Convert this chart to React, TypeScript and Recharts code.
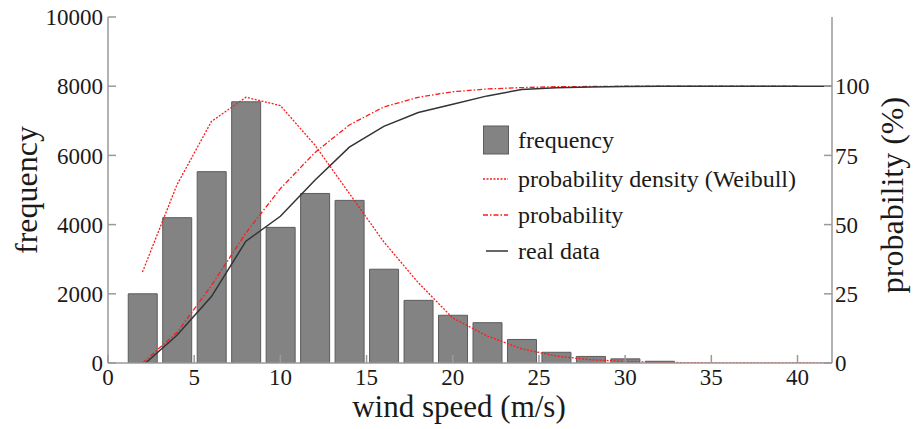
import React from "react";
import { ComposedChart, Bar, Line, XAxis, YAxis, Legend } from "recharts";

// wind speed bins (m/s)
const windSpeed = [2, 4, 6, 8, 10, 12, 14, 16, 18, 20, 22, 24, 26, 28, 30, 32, 34, 36, 38, 40, 42];
// observed counts per bin
const frequency = [2000, 4200, 5530, 7550, 3920, 4900, 4700, 2710, 1810, 1380, 1165, 680, 310, 190, 120, 50, null, null, null, null, null];
// Weibull density, drawn on the frequency scale
const density = [2630, 5150, 6980, 7680, 7440, 6300, 4900, 3500, 2320, 1300, 780, 410, 200, 95, 45, 20, 8, 3, 1, 0, 0];
// cumulative probability (%)
const probability = [0, 11, 28, 47, 63, 76, 86, 92.5, 96, 98, 99, 99.5, 99.8, 99.9, 100, 100, 100, 100, 100, 100, null];
const realData = [-1, 10, 24, 44, 53, 66, 78, 85.5, 90.5, 93.5, 96.5, 98.8, 99.4, 99.7, 99.9, 100, 100, 100, 100, 100, 100];

const xTicks = [0, 5, 10, 15, 20, 25, 30, 35, 40];
const freqTicks = [0, 2000, 4000, 6000, 8000, 10000];
const probTicks = [0, 25, 50, 75, 100];

const legendItems = [
  { name: "frequency", kind: "bar" },
  { name: "probability density (Weibull)", kind: "dot" },
  { name: "probability", kind: "dashdot" },
  { name: "real data", kind: "solid" },
];

const FONT = "Liberation Serif";
const TEXT = "#1a1a1a";
const AXIS = "#9a9a9a";
const RED = "#ff1a1a";

const data = windSpeed.map((x, i) => ({
  x,
  frequency: frequency[i],
  density: density[i],
  probability: probability[i],
  real: realData[i],
}));

const tickStyle = { fill: TEXT, fontSize: 23, fontFamily: FONT };

function LegendBox() {
  return (
    <div style={{ fontFamily: FONT, fontSize: 24, color: TEXT }}>
      {legendItems.map((item, i) => (
        <div
          key={item.name}
          style={{ display: "flex", alignItems: "center", height: 36, marginBottom: i === 0 ? 3 : 0 }}
        >
          <svg width={26} height={30} style={{ marginRight: 9 }}>
            {item.kind === "bar" && (
              <rect x={0.5} y={1} width={25} height={28} fill="#838383" stroke="#5c5c5c" />
            )}
            {item.kind === "dot" && (
              <line x1={0} x2={25} y1={15} y2={15} stroke={RED} strokeWidth={1.3} strokeDasharray="2 1.5" />
            )}
            {item.kind === "dashdot" && (
              <line x1={0} x2={25} y1={15} y2={15} stroke={RED} strokeWidth={1.3} strokeDasharray="5 2 1.5 2" />
            )}
            {item.kind === "solid" && (
              <line x1={3} x2={25} y1={15} y2={15} stroke="#333" strokeWidth={1.5} />
            )}
          </svg>
          <span>{item.name}</span>
        </div>
      ))}
    </div>
  );
}

const titleStyle = { fill: TEXT, fontSize: 32, fontFamily: FONT };

const leftTitle = (props: any) => {
  const vb = props.viewBox || { x: 0, y: 17, width: 108, height: 346 };
  const cx = vb.x + 37;
  const cy = vb.y + vb.height / 2;
  return (
    <text x={cx} y={cy} transform={`rotate(-90 ${cx} ${cy})`} textAnchor="middle" {...titleStyle}>
      frequency
    </text>
  );
};

const rightTitle = (props: any) => {
  const vb = props.viewBox || { x: 832, y: 17, width: 82, height: 346 };
  const cx = vb.x + 71;
  const cy = vb.y + vb.height / 2 + 5;
  return (
    <text x={cx} y={cy} transform={`rotate(-90 ${cx} ${cy})`} textAnchor="middle" {...titleStyle}>
      probability (%)
    </text>
  );
};

const bottomTitle = (props: any) => {
  const vb = props.viewBox || { x: 108, y: 363, width: 724, height: 66 };
  const cx = vb.x + vb.width / 2 - 11;
  return (
    <text x={cx} y={vb.y + 54} textAnchor="middle" {...titleStyle} fontSize={31}>
      wind speed (m/s)
    </text>
  );
};

export default function App() {
  return (
    <div style={{ position: "absolute", left: 0, top: 0, background: "#fff", fontFamily: FONT }}>
      <ComposedChart width={914} height={429} data={data} margin={{ top: 17, right: 0, bottom: 0, left: 0 }}>
        <XAxis
          xAxisId="x"
          dataKey="x"
          type="number"
          domain={[0, 42]}
          ticks={xTicks}
          interval={0}
          height={66}
          tickSize={-8}
          tickMargin={14}
          stroke={AXIS}
          strokeWidth={1.5}
          tick={tickStyle}
          allowDataOverflow
          label={bottomTitle}
        />
        <XAxis
          xAxisId="top"
          orientation="top"
          dataKey="x"
          type="number"
          domain={[0, 42]}
          ticks={xTicks}
          interval={0}
          height={0}
          tickSize={-8}
          stroke={AXIS}
          strokeWidth={1.5}
          tick={() => null}
          allowDataOverflow
        />
        <YAxis
          yAxisId="left"
          domain={[0, 10000]}
          ticks={freqTicks}
          interval={0}
          width={108}
          tickSize={-8}
          tickMargin={13}
          stroke={AXIS}
          strokeWidth={1.5}
          tick={tickStyle}
          allowDataOverflow
          label={leftTitle}
        />
        <YAxis
          yAxisId="right"
          orientation="right"
          domain={[0, 125]}
          ticks={probTicks}
          interval={0}
          width={82}
          tickSize={-8}
          tickMargin={11}
          stroke={AXIS}
          strokeWidth={1.5}
          tick={tickStyle}
          allowDataOverflow
          label={rightTitle}
        />
        <Bar
          xAxisId="x"
          yAxisId="left"
          dataKey="frequency"
          barSize={29}
          fill="#838383"
          stroke="#5c5c5c"
          strokeWidth={1}
          isAnimationActive={false}
        />
        <Line
          xAxisId="x"
          yAxisId="left"
          type="linear"
          dataKey="density"
          stroke={RED}
          strokeWidth={1.3}
          strokeDasharray="2 1.5"
          dot={false}
          isAnimationActive={false}
        />
        <Line
          xAxisId="x"
          yAxisId="right"
          type="linear"
          dataKey="probability"
          stroke={RED}
          strokeWidth={1.3}
          strokeDasharray="5 2 1.5 2"
          dot={false}
          isAnimationActive={false}
        />
        <Line
          xAxisId="x"
          yAxisId="right"
          type="linear"
          dataKey="real"
          stroke="#333"
          strokeWidth={1.5}
          dot={false}
          isAnimationActive={false}
        />
        <Legend
          layout="vertical"
          align="center"
          verticalAlign="middle"
          wrapperStyle={{ left: 483, top: 122, width: 360 }}
          content={() => <LegendBox />}
        />
      </ComposedChart>
    </div>
  );
}
